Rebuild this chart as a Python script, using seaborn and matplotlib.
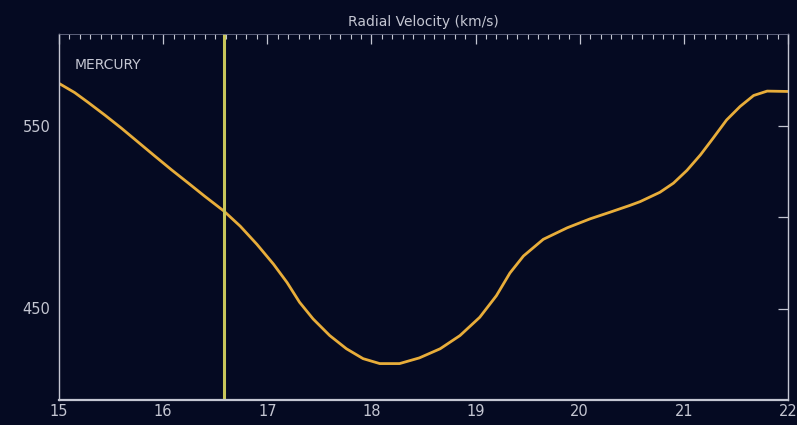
import numpy as np
import pandas as pd
import matplotlib
matplotlib.use("Agg")
import matplotlib.pyplot as plt
import seaborn as sns
from matplotlib.ticker import MultipleLocator, FixedLocator

# Data
time_h = [15.00, 15.15, 15.28, 15.44, 15.60, 15.76, 15.92, 16.08, 16.24, 16.40,
          16.58, 16.74, 16.90, 17.06, 17.19, 17.31, 17.44, 17.60, 17.76, 17.92,
          18.08, 18.27, 18.46, 18.66, 18.85, 19.04, 19.20, 19.33, 19.46, 19.65,
          19.88, 20.10, 20.29, 20.48, 20.58, 20.77, 20.90, 21.03, 21.16, 21.28,
          21.41, 21.54, 21.67, 21.80, 22.00]
velocity = [573.0, 568.0, 562.6, 555.7, 548.5, 540.9, 533.3, 525.8, 518.6, 511.3,
            503.4, 495.0, 485.1, 474.2, 464.2, 453.4, 444.3, 435.2, 428.0, 422.6,
            419.9, 419.9, 423.0, 428.0, 435.2, 445.2, 457.0, 469.4, 478.7, 487.8,
            494.1, 499.0, 502.6, 506.3, 508.4, 513.5, 518.5, 525.5, 534.0, 543.0,
            553.0, 560.4, 566.4, 568.8, 568.6]
marker_time = 16.58
title_text = "Radial Velocity (km/s)"
label_text = "MERCURY"
y_ticks = [450, 500, 550]
y_tick_labels = ["450", "", "550"]
x_ticks = [15, 16, 17, 18, 19, 20, 21, 22]

df = pd.DataFrame({"time": time_h, "velocity": velocity})

sns.set_style("dark")
bg = "#050a22"
fg = "#c4c6d2"
plt.rcParams["font.family"] = ["DejaVu Sans"]

fig = plt.figure(figsize=(7.97, 4.25), dpi=100, facecolor=bg)
ax = fig.add_axes([59/797, 1 - 400/425, (788 - 59)/797, (400 - 34)/425])
ax.set_facecolor(bg)

sns.lineplot(data=df, x="time", y="velocity", ax=ax, color="#e8ad3a",
             linewidth=2.0, estimator=None, sort=True,
             solid_joinstyle="round", solid_capstyle="round")
ax.axvline(marker_time, color="#c9c65a", linewidth=2.2)

ax.set_xlim(15, 22)
ax.set_ylim(400, 600)
ax.set_xlabel("")
ax.set_ylabel("")
ax.grid(False)

ax.xaxis.set_major_locator(FixedLocator(x_ticks))
ax.xaxis.set_minor_locator(MultipleLocator(0.1))
ax.yaxis.set_major_locator(FixedLocator(y_ticks))
ax.set_yticklabels(y_tick_labels)

ax.tick_params(axis="both", which="both", direction="in", colors=fg,
               top=True, right=True, labelsize=10.5, pad=6)
ax.tick_params(axis="both", which="major", length=7, width=0.9)
ax.tick_params(axis="both", which="minor", length=3.5, width=0.8)
ax.tick_params(axis="y", which="minor", left=False, right=False)
ax.tick_params(axis="x", pad=3)

for s in ["left", "right", "bottom"]:
    ax.spines[s].set_visible(True)
    ax.spines[s].set_color(fg)
    ax.spines[s].set_linewidth(1.0)
ax.spines["top"].set_visible(True)
ax.spines["top"].set_color("#6a6e88")
ax.spines["top"].set_linewidth(0.6)
ax.spines["bottom"].set_linewidth(1.6)

ax.set_title(title_text, color=fg, fontsize=10, pad=6)
ax.text(0.022, 0.915, label_text, transform=ax.transAxes, color=fg,
        fontsize=10, va="center", ha="left")

fig.savefig("out.png", dpi=100, facecolor=bg)
